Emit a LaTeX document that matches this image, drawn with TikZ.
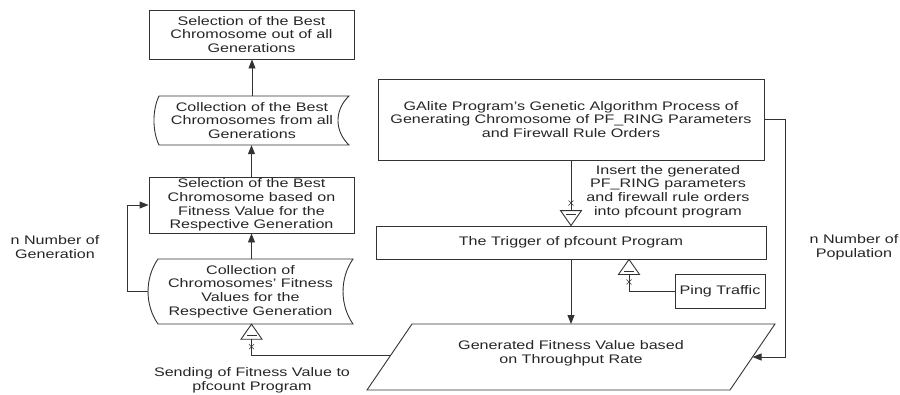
\documentclass[tikz,border=0pt]{standalone}
\usepackage{fontspec}
\setmainfont{Liberation Sans}[FakeStretch=1.3]
\usetikzlibrary{arrows.meta,calc}
\begin{document}
\begin{tikzpicture}[x=1pt,y=-1pt,
  every node/.style={font=\fontsize{12.4}{13.7}\selectfont, text=black!85, align=center, inner sep=0pt},
  ln/.style={draw=black!80, line width=0.9pt},
  arr/.style={ln, -{Triangle[length=9pt,width=7pt]}},
  iface/.pic={
    \draw[ln] (0,0) -- (-10.5,15) -- (10.5,15) -- cycle;
    \draw[ln] (-5,11.5) -- (5,11.5);
    \draw[ln, line width=0.6pt] (-2.5,20) -- (2.5,25) (-2.5,25) -- (2.5,20);
  }]
\useasboundingbox (0,0) rectangle (900,394);

% left column
\node[ln, draw, minimum width=205pt, minimum height=49pt] (b1) at (251.5,34.5)
  {Selection of the Best\\Chromosome out of all\\Generations};
\node[minimum width=196pt, minimum height=49pt] (b2) at (252,120.5)
  {Collection of the Best\\Chromosomes from all\\Generations};
\draw[ln] (159,96) -- (349,96) .. controls (334.3,110) and (334.3,131) .. (349,145)
  -- (159,145) .. controls (152.3,131) and (152.3,110) .. (159,96) -- cycle;
\node[ln, draw, minimum width=205pt, minimum height=56pt] (b3) at (251.5,205)
  {Selection of the Best\\Chromosome based on\\Fitness Value for the\\Respective Generation};
\node[minimum width=205pt, minimum height=65pt] (b4) at (250.5,291.5)
  {Collection of\\Chromosomes' Fitness\\Values for the\\Respective Generation};
\draw[ln] (158,259) -- (353,259) .. controls (339.7,278) and (339.7,305) .. (353,324)
  -- (158,324) .. controls (144.7,305) and (144.7,278) .. (158,259) -- cycle;

% right part
\node[ln, draw, minimum width=386pt, minimum height=81pt] (gal) at (571,119.5)
  {GAlite Program's Genetic Algorithm Process of\\Generating Chromosome of PF\_RING Parameters\\and Firewall Rule Orders};
\node[ln, draw, minimum width=390pt, minimum height=33pt] (trig) at (571,242.5)
  {The Trigger of pfcount Program};
\node[ln, draw, minimum width=90pt, minimum height=34pt] (ping) at (720,291)
  {Ping Traffic};
\coordinate (pTL) at (412,324);
\coordinate (pTR) at (775,324);
\coordinate (pBR) at (730,390);
\coordinate (pBL) at (367,390);
\draw[ln] (pTL) -- (pTR) -- (pBR) -- (pBL) -- cycle;
\node (pg) at (571,353) {Generated Fitness Value based\\on Throughput Rate};

% labels
\node (ins) at (668,191.5) {Insert the generated\\PF\_RING parameters\\and firewall rule orders\\into pfcount program};
\node (lg) at (55,247) {n Number of\\Generation};
\node (lp) at (854,247) {n Number of\\Population};
\node (ls) at (252,380) {Sending of Fitness Value to\\pfcount Program};

% connectors
\draw[arr] (b2.north) -- (b2.north |- b1.south);
\draw[arr] (b3.north) -- (b3.north |- b2.south);
\draw[arr] (b3.south |- b4.north) -- (b3.south);
\draw[arr] (b4.west) -- ++(-20,0) |- (b3.west);

\coordinate (sa) at (b3.south |- b4.south);
\pic at (sa) {iface};
\draw[ln] ($(sa)+(0,15)$) |- ($(pTL)!0.47!(pBL)$);

\pic[rotate=180] at (trig.north) {iface};
\draw[ln] (gal.south) -- ($(trig.north)+(0,-15)$);

\coordinate (pa) at ($(trig.south)+(58,0)$);
\pic at (pa) {iface};
\draw[ln] ($(pa)+(0,15)$) |- (ping.west);

\draw[arr] (trig.south) -- (trig.south |- pTL);
\draw[arr] (gal.east) -- ++(21,0) |- ($(pTR)!0.5!(pBR)$);
\end{tikzpicture}
\end{document}
